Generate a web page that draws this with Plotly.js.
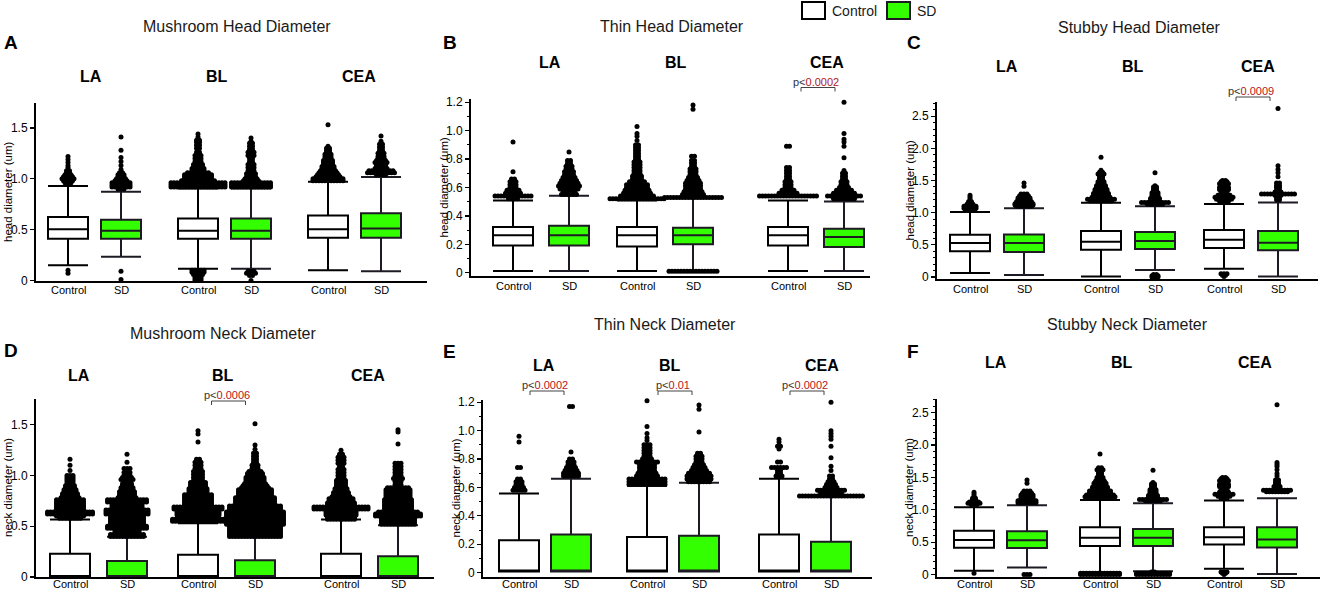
<!DOCTYPE html>
<html><head><meta charset="utf-8">
<script src="https://cdn.plot.ly/plotly-3.0.1.min.js"></script>
<style>body{margin:0;background:#fff}#chart{width:1325px;height:591px}</style>
</head><body><div id="chart"></div>
<script>
// ---------- DATA ----------
const regions = ['LA', 'BL', 'CEA'];
const conditions = ['Control', 'SD'];
const panelLetters = ['A', 'B', 'C', 'D', 'E', 'F'];
const panelTitles = ['Mushroom Head Diameter', 'Thin Head Diameter', 'Stubby Head Diameter',
                     'Mushroom Neck Diameter', 'Thin Neck Diameter', 'Stubby Neck Diameter'];
const yTitles = ['head diameter (um)', 'head diameter (um)', 'head diameter (um)',
                 'neck diameter (um)', 'neck diameter (um)', 'neck diameter (um)'];

const ticks15 = [0, 0.5, 1.0, 1.5];
const ticks15Text = ['0', '0.5', '1.0', '1.5'];
const ticks12 = [0, 0.2, 0.4, 0.6, 0.8, 1.0, 1.2];
const ticks12Text = ['0', '0.2', '0.4', '0.6', '0.8', '1.0', '1.2'];
const ticks25 = [0, 0.5, 1.0, 1.5, 2.0, 2.5];
const ticks25Text = ['0', '0.5', '1.0', '1.5', '2.0', '2.5'];

// box order: LA-Control, LA-SD, BL-Control, BL-SD, CEA-Control, CEA-SD
const A_q1  = [0.41, 0.41, 0.41, 0.41, 0.42, 0.42];
const A_med = [0.505, 0.49, 0.49, 0.49, 0.505, 0.51];
const A_q3  = [0.623, 0.597, 0.61, 0.61, 0.64, 0.66];
const A_lo  = [0.151, 0.233, 0.115, 0.115, 0.10, 0.092];
const A_hi  = [0.928, 0.872, 0.905, 0.905, 0.97, 1.017];

const B_q1  = [0.192, 0.192, 0.185, 0.20, 0.192, 0.181];
const B_med = [0.263, 0.263, 0.263, 0.263, 0.263, 0.251];
const B_q3  = [0.322, 0.331, 0.322, 0.317, 0.322, 0.31];
const B_lo  = [0.012, 0.012, 0.012, 0.012, 0.012, 0.012];
const B_hi  = [0.509, 0.542, 0.509, 0.533, 0.509, 0.502];

const C_q1  = [0.40, 0.39, 0.425, 0.435, 0.45, 0.415];
const C_med = [0.528, 0.528, 0.549, 0.56, 0.58, 0.534];
const C_q3  = [0.658, 0.663, 0.715, 0.70, 0.73, 0.715];
const C_lo  = [0.062, 0.031, 0.008, 0.109, 0.13, 0.008];
const C_hi  = [1.01, 1.07, 1.155, 1.10, 1.135, 1.16];

const D_q1  = [0, 0, 0, 0, 0, 0];
const D_med = [0, 0, 0, 0, 0, 0];
const D_q3  = [0.23, 0.158, 0.22, 0.165, 0.228, 0.205];
const D_lo  = [0, 0, 0, 0, 0, 0];
const D_hi  = [0.567, 0.396, 0.53, 0.545, 0.567, 0.51];

const E_q1  = [0.008, 0.008, 0.008, 0.008, 0.008, 0.008];
const E_med = [0.008, 0.008, 0.008, 0.008, 0.008, 0.008];
const E_q3  = [0.228, 0.268, 0.25, 0.26, 0.268, 0.217];
const E_lo  = [0.008, 0.008, 0.008, 0.008, 0.008, 0.008];
const E_hi  = [0.558, 0.661, 0.612, 0.633, 0.661, 0.546];

const F_q1  = [0.415, 0.41, 0.44, 0.44, 0.465, 0.42];
const F_med = [0.535, 0.53, 0.567, 0.567, 0.575, 0.54];
const F_q3  = [0.675, 0.67, 0.73, 0.705, 0.73, 0.73];
const F_lo  = [0.06, 0.11, 0.035, 0.05, 0.09, 0.01];
const F_hi  = [1.04, 1.07, 1.15, 1.10, 1.145, 1.18];

// outliers: [value, number of points at that value]
const A_out = [
 [[0.07,1],[0.10,1],[0.96,3],[0.98,4],[1.00,5],[1.02,4],[1.04,3],[1.06,2],[1.08,2],[1.11,1],[1.13,1],[1.16,1],[1.19,1],[1.22,1]],
 [[0.01,1],[0.09,1],[0.90,3],[0.92,7],[0.94,7],[0.96,7],[0.98,5],[1.00,4],[1.02,3],[1.04,3],[1.06,2],[1.09,1],[1.13,1],[1.17,1],[1.21,1],[1.28,1],[1.41,1]],
 [[0.0,3],[0.02,3],[0.04,3],[0.06,4],[0.08,5],[0.10,5],[0.92,19],[0.94,19],[0.96,19],[0.98,12],[1.00,10],[1.02,10],[1.04,10],[1.06,8],[1.08,5],[1.10,5],[1.12,4],[1.14,4],[1.17,3],[1.20,3],[1.23,3],[1.26,2],[1.30,2],[1.33,2],[1.36,2],[1.38,2],[1.41,1],[1.44,1]],
 [[0.0,1],[0.05,2],[0.07,4],[0.09,3],[0.92,14],[0.94,14],[0.96,14],[0.98,6],[1.00,5],[1.02,4],[1.05,4],[1.08,3],[1.11,3],[1.14,3],[1.17,2],[1.20,2],[1.23,3],[1.26,3],[1.29,2],[1.32,2],[1.35,2],[1.37,1],[1.40,1]],
 [[0.98,11],[1.00,11],[1.02,9],[1.04,8],[1.06,7],[1.08,6],[1.10,5],[1.12,5],[1.14,4],[1.16,4],[1.18,4],[1.20,3],[1.22,3],[1.24,3],[1.26,2],[1.28,2],[1.30,2],[1.32,1],[1.53,1]],
 [[1.04,4],[1.06,10],[1.08,9],[1.10,5],[1.12,4],[1.14,4],[1.16,5],[1.18,4],[1.20,3],[1.22,3],[1.25,3],[1.28,2],[1.31,2],[1.34,2],[1.37,1],[1.42,1]]
];
const B_out = [
 [[0.52,4],[0.54,13],[0.56,6],[0.58,5],[0.60,3],[0.62,3],[0.64,3],[0.66,2],[0.71,1],[0.92,1]],
 [[0.55,6],[0.57,5],[0.59,7],[0.61,8],[0.63,7],[0.65,6],[0.67,5],[0.69,4],[0.71,4],[0.73,3],[0.75,3],[0.77,2],[0.79,2],[0.85,1]],
 [[0.52,19],[0.54,12],[0.56,10],[0.58,9],[0.60,8],[0.62,8],[0.64,6],[0.66,4],[0.68,4],[0.70,3],[0.72,3],[0.74,3],[0.76,3],[0.78,3],[0.80,2],[0.82,2],[0.84,2],[0.86,2],[0.88,2],[0.90,2],[0.93,1],[0.96,1],[0.98,1],[1.03,1]],
 [[0.01,17],[0.53,20],[0.55,8],[0.57,7],[0.59,6],[0.61,6],[0.63,6],[0.65,5],[0.67,4],[0.69,3],[0.71,3],[0.73,3],[0.75,2],[0.77,2],[0.79,2],[0.82,2],[1.15,1],[1.18,1]],
 [[0.54,20],[0.56,7],[0.58,5],[0.60,3],[0.62,3],[0.64,3],[0.66,2],[0.68,2],[0.70,2],[0.72,2],[0.74,2],[0.89,2]],
 [[0.52,8],[0.54,12],[0.56,8],[0.58,6],[0.60,4],[0.62,3],[0.64,3],[0.66,2],[0.68,2],[0.70,2],[0.72,1],[0.81,1],[0.89,1],[0.92,1],[0.94,1],[0.98,1],[1.20,1]]
];
const C_out = [
 [[1.04,4],[1.07,5],[1.10,5],[1.13,3],[1.17,2],[1.21,1],[1.24,1],[1.27,1]],
 [[1.10,6],[1.12,7],[1.14,7],[1.17,6],[1.20,5],[1.23,5],[1.26,4],[1.29,3],[1.41,1],[1.46,1]],
 [[1.18,8],[1.21,10],[1.24,7],[1.27,6],[1.30,6],[1.33,5],[1.36,5],[1.39,4],[1.42,4],[1.45,3],[1.48,3],[1.51,2],[1.54,2],[1.57,2],[1.60,3],[1.63,2],[1.66,1],[1.86,1]],
 [[0.0,3],[0.02,3],[0.04,2],[1.13,6],[1.16,10],[1.19,4],[1.22,4],[1.25,3],[1.28,3],[1.31,3],[1.34,2],[1.37,2],[1.40,2],[1.42,1],[1.62,1]],
 [[0.01,1],[0.03,2],[0.05,3],[1.18,4],[1.21,6],[1.24,7],[1.27,5],[1.30,3],[1.33,3],[1.36,4],[1.39,4],[1.42,3],[1.45,4],[1.48,3],[1.50,2]],
 [[1.20,2],[1.24,2],[1.27,3],[1.29,12],[1.32,3],[1.35,2],[1.39,2],[1.42,2],[1.46,2],[1.56,1],[1.62,1],[1.67,1],[1.73,1],[2.62,1]]
];
const D_out = [
 [[0.58,8],[0.60,10],[0.62,16],[0.64,16],[0.66,10],[0.68,10],[0.70,10],[0.72,10],[0.74,10],[0.76,10],[0.78,7],[0.80,6],[0.82,6],[0.84,5],[0.86,5],[0.88,4],[0.90,4],[0.92,3],[0.94,3],[0.96,3],[0.98,3],[1.00,3],[1.05,1],[1.10,1],[1.16,1]],
 [[0.40,12],[0.42,12],[0.44,9],[0.46,9],[0.48,14],[0.50,14],[0.52,12],[0.54,12],[0.56,12],[0.58,12],[0.60,12],[0.62,15],[0.64,15],[0.66,15],[0.68,11],[0.70,11],[0.72,11],[0.74,14],[0.76,14],[0.78,7],[0.80,6],[0.82,6],[0.84,6],[0.86,5],[0.88,5],[0.90,4],[0.92,4],[0.94,3],[0.96,5],[0.98,4],[1.00,3],[1.03,3],[1.07,3],[1.13,1],[1.21,1]],
 [[0.55,18],[0.57,18],[0.59,14],[0.61,15],[0.63,15],[0.65,15],[0.67,17],[0.69,17],[0.71,10],[0.73,10],[0.75,10],[0.77,10],[0.79,10],[0.81,10],[0.83,7],[0.85,7],[0.87,7],[0.89,6],[0.91,6],[0.93,6],[0.95,4],[0.98,4],[1.01,4],[1.04,4],[1.07,3],[1.10,3],[1.13,3],[1.16,2],[1.33,1],[1.41,1],[1.44,1]],
 [[0.40,18],[0.42,18],[0.44,18],[0.46,18],[0.48,18],[0.50,18],[0.52,20],[0.54,20],[0.56,20],[0.58,20],[0.60,20],[0.62,20],[0.64,20],[0.66,18],[0.68,18],[0.70,18],[0.72,14],[0.74,14],[0.76,14],[0.78,14],[0.80,12],[0.82,12],[0.84,12],[0.86,12],[0.88,10],[0.90,9],[0.92,8],[0.94,7],[0.96,7],[0.98,7],[1.00,6],[1.02,6],[1.04,5],[1.07,3],[1.10,3],[1.13,2],[1.16,2],[1.19,2],[1.22,2],[1.26,1],[1.30,1],[1.51,1]],
 [[0.57,10],[0.59,10],[0.61,11],[0.63,11],[0.65,11],[0.67,19],[0.69,19],[0.71,10],[0.73,10],[0.75,9],[0.77,9],[0.79,7],[0.81,6],[0.83,6],[0.85,5],[0.87,5],[0.89,4],[0.91,4],[0.93,4],[0.95,4],[0.97,3],[1.00,3],[1.03,3],[1.06,3],[1.09,2],[1.12,3],[1.15,3],[1.18,3],[1.21,2],[1.25,1]],
 [[0.52,12],[0.54,12],[0.56,12],[0.58,12],[0.60,16],[0.62,16],[0.64,14],[0.66,10],[0.68,10],[0.70,10],[0.72,10],[0.74,10],[0.76,10],[0.78,9],[0.80,9],[0.82,9],[0.84,9],[0.86,9],[0.88,8],[0.91,3],[0.94,3],[0.97,4],[1.00,3],[1.03,3],[1.06,3],[1.09,3],[1.12,3],[1.31,1],[1.43,1],[1.45,1]]
];
const E_out = [
 [[0.58,5],[0.60,4],[0.62,3],[0.64,3],[0.66,2],[0.74,2],[0.92,1],[0.96,1]],
 [[0.68,6],[0.70,6],[0.72,5],[0.74,4],[0.76,3],[0.78,3],[0.80,2],[0.85,1],[1.17,2]],
 [[0.62,13],[0.64,13],[0.66,13],[0.68,8],[0.70,7],[0.72,6],[0.74,6],[0.76,6],[0.78,8],[0.80,4],[0.82,3],[0.84,3],[0.86,3],[0.88,3],[0.90,3],[0.93,1],[0.95,1],[0.98,1],[1.03,1],[1.21,1]],
 [[0.64,8],[0.66,9],[0.68,9],[0.70,8],[0.72,6],[0.74,5],[0.76,4],[0.78,3],[0.80,3],[0.82,3],[0.84,2],[0.99,1],[1.15,1],[1.18,1]],
 [[0.68,3],[0.70,2],[0.72,2],[0.74,6],[0.78,2],[0.87,1],[0.89,2],[0.92,1],[0.94,1]],
 [[0.54,22],[0.56,8],[0.58,10],[0.60,5],[0.62,4],[0.64,3],[0.66,2],[0.68,2],[0.72,1],[0.75,1],[0.81,1],[0.89,1],[0.94,1],[0.96,1],[0.98,1],[1.00,1],[1.20,1]]
];
const F_out = [
 [[0.02,1],[1.08,3],[1.10,5],[1.12,4],[1.15,2],[1.18,2],[1.21,1],[1.24,1],[1.27,1]],
 [[0.0,3],[1.11,7],[1.14,7],[1.17,5],[1.20,5],[1.23,5],[1.26,4],[1.29,3],[1.41,1],[1.46,1]],
 [[0.0,14],[0.02,14],[1.20,11],[1.23,10],[1.26,8],[1.29,8],[1.32,6],[1.35,6],[1.38,5],[1.41,5],[1.44,4],[1.47,3],[1.50,3],[1.53,2],[1.56,2],[1.59,2],[1.62,3],[1.65,2],[1.86,1]],
 [[0.0,12],[0.02,12],[0.04,2],[1.14,6],[1.16,10],[1.19,4],[1.22,4],[1.25,3],[1.28,3],[1.31,3],[1.34,2],[1.37,2],[1.40,2],[1.42,1],[1.61,1]],
 [[0.0,1],[0.02,2],[0.04,3],[1.18,3],[1.21,5],[1.24,7],[1.27,4],[1.30,3],[1.33,3],[1.36,4],[1.39,4],[1.42,3],[1.45,4],[1.48,3],[1.50,2]],
 [[1.28,8],[1.30,10],[1.33,3],[1.36,3],[1.39,2],[1.42,2],[1.46,2],[1.52,1],[1.56,1],[1.62,1],[1.67,1],[1.70,1],[1.73,1],[2.62,1]]
];

// significance labels: panel index, region index, p text
const pPanels  = [1, 2, 3, 4, 4, 4];
const pRegions = [2, 2, 1, 0, 1, 2];
const pTexts   = ['0.0002', '0.0009', '0.0006', '0.0002', '0.01', '0.0002'];

// ---------- LAYOUT (positions / styles) ----------
const W = 1325, H = 591;
const stats = [
  [A_q1, A_med, A_q3, A_lo, A_hi, A_out],
  [B_q1, B_med, B_q3, B_lo, B_hi, B_out],
  [C_q1, C_med, C_q3, C_lo, C_hi, C_out],
  [D_q1, D_med, D_q3, D_lo, D_hi, D_out],
  [E_q1, E_med, E_q3, E_lo, E_hi, E_out],
  [F_q1, F_med, F_q3, F_lo, F_hi, F_out]
];
const geom = [
  {x0:36,  x1:427,  y0:103, y1:281, yr:[-0.005,1.745], starts:[32,162,292], gap:53, tv:ticks15, tt:ticks15Text, minor:false,
   title:[237,26], letter:[2,43], regY:76,  regX:[91,217,359], labY:290},
  {x0:471, x1:870,  y0:99,  y1:276, yr:[-0.023,1.223], starts:[42,166,317], gap:56, tv:ticks12, tt:ticks12Text, minor:true,
   title:[672,26], letter:[441,43], regY:63, regX:[550,676,827], pY:82, bY:87.5, labY:286},
  {x0:937, x1:1318, y0:102, y1:279, yr:[-0.03,2.72], starts:[33,164,287], gap:54, tv:ticks25, tt:ticks25Text, minor:true,
   title:[1139,27], letter:[905,43], regY:67, regX:[1007,1133,1258], pY:91, bY:97, labY:289},
  {x0:36,  x1:434,  y0:399, y1:577, yr:[0,1.754], starts:[34,162,305], gap:57, tv:ticks15, tt:ticks15Text, minor:false,
   title:[223,333], letter:[2,350], regY:375, regX:[79,223,368], pY:395, bY:401, labY:584},
  {x0:483, x1:872,  y0:400, y1:577, yr:[-0.031,1.216], starts:[36,164,296], gap:52, tv:ticks12, tt:ticks12Text, minor:true,
   title:[665,324], letter:[441,351], regY:365, regX:[544,670,822], pY:385, bY:391, labY:584},
  {x0:937, x1:1320, y0:399, y1:577, yr:[-0.037,2.71], starts:[37,163,287], gap:53, tv:ticks25, tt:ticks25Text, minor:true,
   title:[1127,324], letter:[905,351], regY:362, regX:[996,1122,1255], pY:385, bY:391, labY:584}
];
const FONT = 'Liberation Sans, Arial, Helvetica, sans-serif';
const GREEN = '#33ff00';
const BOXW = 40, DOT_SP = 3;
const px = v => v / W, py = v => 1 - v / H;

const traces = [], annotations = [], shapes = [];
const layout = {
  width: W, height: H, margin: {l:0, r:0, t:0, b:0},
  paper_bgcolor: '#fff', plot_bgcolor: 'rgba(0,0,0,0)',
  showlegend: false, font: {family: FONT, color: '#000'},
  annotations, shapes
};

geom.forEach((g, i) => {
  const s = i === 0 ? '' : String(i + 1);
  const xa = 'x' + s, ya = 'y' + s;
  const [q1, med, q3, lo, hi, out] = stats[i];
  const pos = [];
  for (let r = 0; r < 3; r++) for (let c = 0; c < 2; c++) pos.push(g.starts[r] + c * g.gap);

  layout['xaxis' + s] = {
    domain: [px(g.x0), px(g.x1)], range: [0, g.x1 - g.x0], anchor: ya,
    showline: true, linecolor: '#000', linewidth: 2, ticks: '', showgrid: false, zeroline: false,
    showticklabels: false, fixedrange: true
  };
  const yax = {
    domain: [py(g.y1), py(g.y0)], range: g.yr, anchor: xa,
    showline: true, linecolor: '#000', linewidth: 2, ticks: 'outside', ticklen: 4, tickwidth: 1.2, tickcolor: '#000',
    showgrid: false, zeroline: false, tickmode: 'array', tickvals: g.tv, ticktext: g.tt,
    tickfont: {size: 12, color: '#000', family: FONT}, fixedrange: true
  };
  if (g.minor) yax.minor = {ticks: 'outside', ticklen: 2, tickwidth: 1, tickcolor: '#000', dtick: 0.1, tick0: 0, showgrid: false};
  layout['yaxis' + s] = yax;

  // condition labels under each box
  pos.forEach((p, k) => annotations.push({xref: xa, yref: 'paper', x: p, y: py(g.labY), text: conditions[k % 2],
    showarrow: false, xanchor: 'center', yanchor: 'middle', borderpad: 0, font: {size: 11, color: '#000', family: FONT}}));

  // boxes
  [0, 1].forEach(c => {
    const idx = [c, c + 2, c + 4];
    traces.push({
      type: 'box', orientation: 'v', xaxis: xa, yaxis: ya,
      x: idx.map(k => pos[k]),
      q1: idx.map(k => q1[k]), median: idx.map(k => med[k]), q3: idx.map(k => q3[k]),
      lowerfence: idx.map(k => lo[k]), upperfence: idx.map(k => hi[k]),
      width: BOXW, whiskerwidth: 1, boxpoints: false,
      fillcolor: c === 0 ? '#ffffff' : GREEN,
      line: {color: c === 0 ? '#000' : '#1e1a24', width: 2},
      hoverinfo: 'skip', showlegend: false
    });
  });

  // outliers as a swarm of points
  const ox = [], oy = [];
  out.forEach((levels, k) => {
    levels.forEach(([v, n]) => {
      for (let j = 0; j < n; j++) { ox.push(pos[k] + (j - (n - 1) / 2) * DOT_SP); oy.push(v); }
    });
  });
  traces.push({
    type: 'scatter', mode: 'markers', xaxis: xa, yaxis: ya, x: ox, y: oy, cliponaxis: false,
    marker: {color: '#000', size: 5, line: {width: 0}}, hoverinfo: 'skip', showlegend: false
  });

  // texts
  annotations.push({xref:'paper', yref:'paper', x: px(g.title[0]), y: py(g.title[1]), text: panelTitles[i],
    showarrow:false, xanchor:'center', yanchor:'middle', font:{size:16, color:'#1a1a1a', family: FONT}});
  annotations.push({xref:'paper', yref:'paper', x: px(g.letter[0]), y: py(g.letter[1]), text: '<b>' + panelLetters[i] + '</b>',
    showarrow:false, xanchor:'left', yanchor:'middle', font:{size:19, color:'#000', family: FONT}});
  regions.forEach((r, k) => annotations.push({xref:'paper', yref:'paper', x: px(g.regX[k]), y: py(g.regY),
    text: '<b>' + r + '</b>', showarrow:false, xanchor:'center', yanchor:'middle', font:{size:16, color:'#000', family: FONT}}));
  annotations.push({xref:'paper', yref:'paper', x: px(g.x0 - 28), y: py((g.y0 + g.y1) / 2), text: yTitles[i],
    textangle: -90, showarrow:false, xanchor:'center', yanchor:'middle', font:{size:11.5, color:'#000', family: FONT}});
});

// significance brackets
pPanels.forEach((pi, n) => {
  const g = geom[pi], r = pRegions[n];
  const mid = g.x0 + g.starts[r] + g.gap / 2 + 2;
  const a = mid - 17, b = mid + 17;
  shapes.push({type:'path', xref:'paper', yref:'paper',
    path: `M ${px(a)},${py(g.bY + 4)} L ${px(a)},${py(g.bY)} L ${px(b)},${py(g.bY)} L ${px(b)},${py(g.bY + 4)}`,
    line:{color:'#444', width:1}});
  annotations.push({xref:'paper', yref:'paper', x: px(mid - 2), y: py(g.pY),
    text: 'p&lt;<span style="color:#b3161b">' + pTexts[n] + '</span>',
    showarrow:false, xanchor:'center', yanchor:'middle', font:{size:11, color:'#333', family: FONT}});
});

// legend
const legendItems = [
  {x: 802, text: conditions[0], fill: '#ffffff', line: '#000'},
  {x: 887, text: conditions[1], fill: GREEN, line: '#1e1a24'}
];
legendItems.forEach(it => {
  shapes.push({type:'rect', xref:'paper', yref:'paper', x0: px(it.x), x1: px(it.x + 23), y0: py(19), y1: py(2),
    fillcolor: it.fill, line:{color: it.line, width: 2}});
  annotations.push({xref:'paper', yref:'paper', x: px(it.x + 28), y: py(11), text: it.text, showarrow:false,
    xanchor:'left', yanchor:'middle', font:{size:14, color:'#1a1a1a', family: FONT}});
});

Plotly.newPlot('chart', traces, layout, {staticPlot: true, displayModeBar: false});
</script>
</body></html>
